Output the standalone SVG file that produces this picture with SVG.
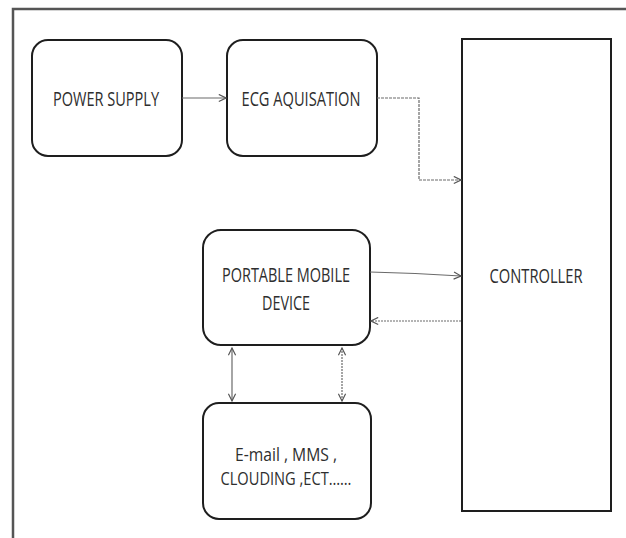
<svg xmlns="http://www.w3.org/2000/svg" width="626" height="538" viewBox="0 0 626 538">
<defs>
<style>
.box{fill:#fff;stroke:#1e1e1e;stroke-width:2}
.lbl{font-family:"Open Sans","Liberation Sans",sans-serif;font-size:20px;fill:#2e2e2e;text-anchor:middle}
.sm{font-size:18px}
.con{fill:none;stroke:#6a6a6a;stroke-width:1.2}
.frame{fill:none;stroke:#555;stroke-width:2.5}
</style>
<marker id="ah" viewBox="0 0 10 10" refX="9" refY="5" markerWidth="9" markerHeight="9" markerUnits="userSpaceOnUse" orient="auto-start-reverse">
<path d="M1,1 L9,5 L1,9" fill="none" stroke="#555" stroke-width="1.3"/>
</marker>
</defs>
<rect width="626" height="538" fill="#fff"/>
<path class="frame" d="M13,538 V9 H626"/>
<g id="power-supply">
<rect class="box" x="32" y="40" width="150" height="116" rx="16"/>
<text class="lbl" x="106" y="106" textLength="106" lengthAdjust="spacingAndGlyphs">POWER SUPPLY</text>
</g>
<g id="ecg-aquisation">
<rect class="box" x="227" y="40" width="150" height="116" rx="16"/>
<text class="lbl" x="301" y="106" textLength="119" lengthAdjust="spacingAndGlyphs">ECG AQUISATION</text>
</g>
<g id="controller">
<rect class="box" x="462" y="39" width="149" height="472"/>
<text class="lbl" x="536" y="283" textLength="93" lengthAdjust="spacingAndGlyphs">CONTROLLER</text>
</g>
<g id="portable-mobile-device">
<rect class="box" x="203" y="230" width="167" height="115" rx="18"/>
<text class="lbl" x="286" y="282" textLength="128" lengthAdjust="spacingAndGlyphs">PORTABLE MOBILE</text>
<text class="lbl" x="286" y="310" textLength="48" lengthAdjust="spacingAndGlyphs">DEVICE</text>
</g>
<g id="email-mms-clouding">
<rect class="box" x="203" y="403" width="168" height="116" rx="16"/>
<text class="lbl sm" x="286" y="461" textLength="102" lengthAdjust="spacingAndGlyphs">E-mail , MMS ,</text>
<text class="lbl sm" x="286" y="485" textLength="131" lengthAdjust="spacingAndGlyphs">CLOUDING ,ECT……</text>
</g>
<g id="connectors">
<path class="con" d="M182,98 H226" marker-end="url(#ah)"/>
<path class="con" d="M377,98 H419 V180 H461" marker-end="url(#ah)" stroke-dasharray="3,1"/>
<path class="con" d="M370,272 Q415,273 461,276" marker-end="url(#ah)"/>
<path class="con" d="M461,321 H371" marker-end="url(#ah)" stroke-dasharray="2,1"/>
<path class="con" d="M232,348 V401" marker-start="url(#ah)" marker-end="url(#ah)"/>
<path class="con" d="M342,348 V401" marker-start="url(#ah)" marker-end="url(#ah)" stroke-dasharray="2,1"/>
</g>
</svg>
